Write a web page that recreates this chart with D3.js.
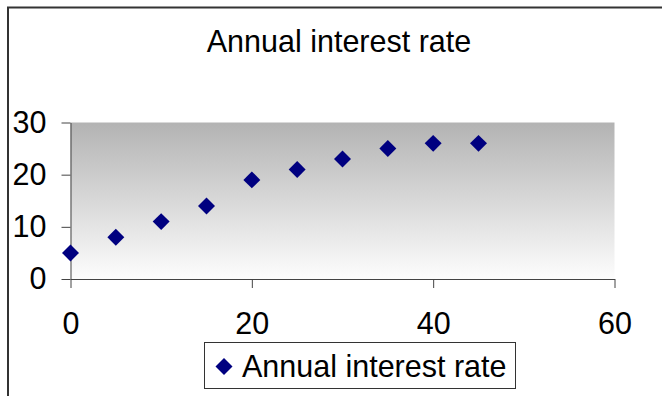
<!DOCTYPE html>
<html>
<head>
<meta charset="utf-8">
<script src="https://cdn.jsdelivr.net/npm/d3@7"></script>
<style>
  html, body { margin: 0; padding: 0; background: #fff; }
  svg { display: block; font-family: "Liberation Sans", Arial, sans-serif; }
</style>
</head>
<body>
<svg id="chart" width="662" height="396"></svg>
<script>
// Series: year vs. annual interest rate
const years = [0, 5, 10, 15, 20, 25, 30, 35, 40, 45];
const rates = [5, 8, 11, 14, 19, 21, 23, 25, 26, 26];
const xTicks = [0, 20, 40, 60];
const yTicks = [0, 10, 20, 30];
const title = "Annual interest rate";
const seriesName = "Annual interest rate";

const svg = d3.select("#chart");
const fontSize = 30.5;

// Outer chart frame (runs past the right and bottom edges)
svg.append("rect")
  .attr("x", 8).attr("y", 7.5)
  .attr("width", 720).attr("height", 460)
  .attr("fill", "none")
  .attr("stroke", "#333")
  .attr("stroke-width", 2);

const x = d3.scaleLinear().domain([0, 60]).range([70.5, 614.5]);
const y = d3.scaleLinear().domain([0, 30]).range([279, 122.5]);

// Plot-area gradient fill: grey at the top fading to white at the bottom
const defs = svg.append("defs");
const grad = defs.append("linearGradient")
  .attr("id", "plotFill")
  .attr("x1", 0).attr("y1", 0).attr("x2", 0).attr("y2", 1);
grad.append("stop").attr("offset", "0%").attr("stop-color", "#b3b3b3");
grad.append("stop").attr("offset", "100%").attr("stop-color", "#fdfdfd");

svg.append("rect")
  .attr("x", x(0)).attr("y", y(30))
  .attr("width", x(60) - x(0)).attr("height", y(0) - y(30))
  .attr("fill", "url(#plotFill)");

// Title
svg.append("text")
  .attr("x", 339).attr("y", 52)
  .attr("text-anchor", "middle")
  .attr("font-size", fontSize)
  .attr("fill", "#000")
  .text(title);

// Axes
const yAxis = d3.axisLeft(y).tickValues(yTicks).tickSize(9).tickSizeOuter(0).tickPadding(15);
const xAxis = d3.axisBottom(x).tickValues(xTicks).tickSize(9).tickSizeOuter(0).tickPadding(24);

const gy = svg.append("g").attr("transform", `translate(${x(0)},0)`).call(yAxis);
const gx = svg.append("g").attr("transform", `translate(0,${y(0)})`).call(xAxis);

[gx, gy].forEach(g => {
  g.select(".domain").attr("stroke", "#444").attr("stroke-width", 1);
  g.selectAll(".tick line").attr("stroke", "#444");
  g.selectAll(".tick text")
    .attr("font-size", fontSize)
    .attr("font-family", '"Liberation Sans", Arial, sans-serif')
    .attr("fill", "#000");
});

// Data markers: navy diamonds
const diamond = d3.symbol().type(d3.symbolSquare).size(144);
svg.append("g").selectAll("path")
  .data(years.map((yr, i) => ({ yr, rate: rates[i] })))
  .join("path")
  .attr("d", diamond)
  .attr("transform", d => `translate(${x(d.yr)},${y(d.rate)}) rotate(45)`)
  .attr("fill", "#000080");

// Legend
const legend = svg.append("g");
legend.append("rect")
  .attr("x", 204.5).attr("y", 342.5)
  .attr("width", 311).attr("height", 46)
  .attr("fill", "#fff")
  .attr("stroke", "#333")
  .attr("stroke-width", 1);
legend.append("path")
  .attr("d", diamond)
  .attr("transform", "translate(224,366.5) rotate(45)")
  .attr("fill", "#000080");
legend.append("text")
  .attr("x", 242).attr("y", 377)
  .attr("font-size", fontSize)
  .attr("fill", "#000")
  .text(seriesName);
</script>
</body>
</html>
